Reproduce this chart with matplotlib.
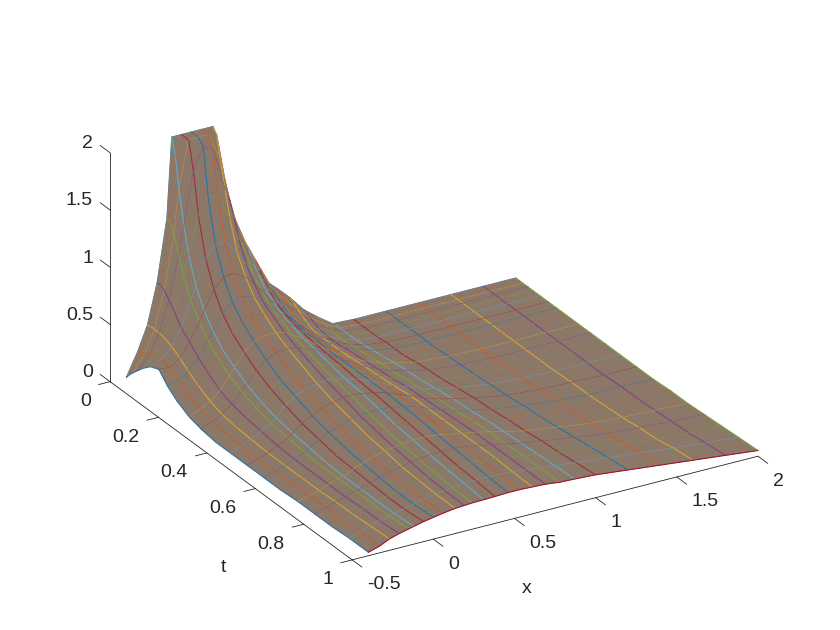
import numpy as np
import matplotlib
matplotlib.use("Agg")
import matplotlib.pyplot as plt
from mpl_toolkits.mplot3d import proj3d
from mpl_toolkits.mplot3d.art3d import Poly3DCollection, Line3DCollection

plt.rcParams['font.family'] = ['Liberation Sans', 'DejaVu Sans']

x_vals = [-0.4, -0.33, -0.27, -0.21, -0.15, -0.12, -0.06, 0, 0.06, 0.135, 0.19, 0.24, 0.31,
          0.38, 0.46, 0.53, 0.61, 0.69, 0.78, 0.87, 1.0, 1.2, 1.4, 1.6, 1.8, 2.0]
t_vals = [0, 0.015, 0.03, 0.05, 0.07, 0.1, 0.135, 0.17, 0.21, 0.26, 0.31, 0.37, 0.43, 0.5,
          0.57, 0.64, 0.71, 0.78, 0.85, 0.92, 1.0]

u_rows = [
    [0, .2, .41, .76, 1.3, 2, 2, 2, 2, 2, 1.55, 1.22, .97, .77, .53, .44, .33, .2, .1, .01, 0, 0, 0, 0, 0, 0],
    [.05, .22, .42, .76, 1.28, 1.85, 2, 2, 2, 1.95, 1.5, 1.2, .95, .75, .53, .42, .31, .19, .09, .02, 0, 0, 0, 0, 0, 0],
    [.09, .23, .42, .74, 1.2, 1.6, 2, 2, 2, 1.75, 1.4, 1.13, .9, .7, .5, .39, .28, .17, .08, .02, 0, 0, 0, 0, 0, 0],
    [.14, .25, .42, .68, 1.05, 1.3, 1.75, 1.95, 1.9, 1.52, 1.25, 1.03, .82, .63, .45, .35, .25, .15, .07, .02, 0, 0, 0, 0, 0, 0],
    [.19, .27, .41, .62, .9, 1.08, 1.4, 1.54, 1.52, 1.3, 1.1, .93, .75, .58, .42, .32, .22, .13, .07, .02, 0, 0, 0, 0, 0, 0],
    [.25, .29, .38, .52, .73, .85, 1.07, 1.17, 1.17, 1.05, .93, .8, .66, .52, .38, .28, .19, .12, .06, .02, 0, 0, 0, 0, 0, 0],
    [.28, .27, .33, .45, .6, .69, .85, .94, .95, .89, .81, .72, .6, .48, .36, .27, .19, .12, .07, .03, .01, 0, 0, 0, 0, 0],
    [.19, .21, .27, .37, .5, .57, .7, .78, .8, .77, .71, .64, .55, .45, .34, .26, .19, .13, .08, .04, .01, 0, 0, 0, 0, 0],
    [.12, .15, .21, .3, .41, .47, .59, .67, .7, .69, .65, .6, .52, .43, .34, .26, .19, .14, .09, .05, .01, 0, 0, 0, 0, 0],
    [.06, .1, .15, .22, .33, .39, .5, .57, .6, .6, .58, .54, .48, .41, .33, .26, .2, .15, .1, .07, .03, .01, 0, 0, 0, 0],
    [.03, .07, .11, .18, .27, .32, .42, .49, .53, .54, .53, .5, .46, .4, .33, .27, .21, .16, .11, .08, .04, .01, 0, 0, 0, 0],
    [.01, .05, .09, .15, .22, .26, .35, .41, .45, .48, .48, .46, .43, .39, .33, .28, .22, .17, .13, .09, .05, .02, .01, 0, 0, 0],
    [.01, .04, .08, .13, .18, .22, .3, .36, .39, .42, .43, .42, .4, .37, .33, .28, .23, .19, .14, .11, .07, .03, .01, 0, 0, 0],
    [.01, .04, .07, .11, .16, .19, .25, .3, .34, .37, .39, .39, .38, .36, .33, .29, .25, .2, .16, .13, .09, .04, .02, .01, 0, 0],
    [.01, .04, .07, .1, .14, .17, .22, .26, .29, .33, .34, .35, .35, .34, .32, .29, .25, .21, .17, .14, .1, .06, .03, .01, .01, 0],
    [.01, .04, .07, .1, .13, .15, .19, .23, .26, .29, .31, .32, .32, .32, .31, .28, .25, .22, .19, .16, .12, .07, .04, .02, .01, .01],
    [.02, .05, .07, .1, .13, .14, .18, .21, .24, .27, .28, .29, .3, .3, .29, .27, .25, .23, .2, .17, .13, .09, .05, .03, .02, .01],
    [.02, .05, .08, .1, .13, .14, .17, .19, .22, .24, .26, .27, .28, .28, .28, .27, .25, .23, .2, .18, .15, .11, .07, .05, .03, .02],
    [.02, .05, .08, .11, .13, .14, .16, .18, .2, .23, .24, .25, .26, .26, .265, .26, .25, .23, .21, .19, .16, .13, .09, .06, .04, .03],
    [.03, .06, .09, .11, .13, .14, .16, .18, .2, .22, .23, .24, .25, .25, .25, .25, .24, .23, .21, .2, .18, .15, .12, .09, .06, .04],
    [.03, .06, .1, .125, .145, .155, .175, .19, .205, .22, .225, .23, .232, .235, .24, .24, .235, .23, .215, .21, .2, .17, .14, .11, .08, .05],
]

x_ticks = [-0.5, 0, 0.5, 1, 1.5, 2]
x_tick_labels = ['-0.5', '0', '0.5', '1', '1.5', '2']
t_ticks = [0, 0.2, 0.4, 0.6, 0.8, 1]
t_tick_labels = ['0', '0.2', '0.4', '0.6', '0.8', '1']
z_ticks = [0, 0.5, 1, 1.5, 2]
z_tick_labels = ['0', '0.5', '1', '1.5', '2']

line_colors = ['#0072BD', '#D95319', '#EDB120', '#7E2F8E', '#77AC30', '#4DBEEB', '#A2142F']
fill_color = '#8b7868'
axis_color = '#262626'

fig = plt.figure(figsize=(8.4, 6.3), dpi=100)
ax = fig.add_axes([5.5 / 840, 2 / 630, 1, 1], projection='3d', proj_type='ortho', computed_zorder=False)
ax.set_box_aspect((471, 477, 254), zoom=1.1046)
ax.view_init(elev=25.7, azim=-120.5)
ax.set_xlim(-0.5, 2, view_margin=0)
ax.set_ylim(1, 0, view_margin=0)
ax.set_zlim(0, 2, view_margin=0)
ax.set_axis_off()

u = np.array(u_rows)

# back to front, the rows nearer the viewer paint over the ones behind
order = 10
ax.plot(x_vals, [t_vals[0]] * len(x_vals), u[0], color=line_colors[0], lw=0.8, alpha=0.75, zorder=order, clip_on=False)
for i in range(len(t_vals) - 1):
    polys = []
    segs = []
    seg_colors = []
    for j in range(len(x_vals) - 2, -1, -1):
        polys.append([(x_vals[j], t_vals[i], u[i, j]), (x_vals[j + 1], t_vals[i], u[i, j + 1]),
                      (x_vals[j + 1], t_vals[i + 1], u[i + 1, j + 1]), (x_vals[j], t_vals[i + 1], u[i + 1, j])])
    for j in range(len(x_vals)):
        segs.append([(x_vals[j], t_vals[i], u[i, j]), (x_vals[j], t_vals[i + 1], u[i + 1, j])])
        seg_colors.append(line_colors[j % 7])
    order += 1
    surf = Poly3DCollection(polys, facecolors=fill_color, edgecolors=fill_color, linewidths=0.4, zorder=order, clip_on=False)
    ax.add_collection3d(surf, autolim=False)
    order += 1
    ax.add_collection3d(Line3DCollection(segs, colors=seg_colors, linewidths=0.8, alpha=0.75, zorder=order, clip_on=False), autolim=False)
    order += 1
    ax.plot(x_vals, [t_vals[i + 1]] * len(x_vals), u[i + 1], color=line_colors[(i + 1) % 7], lw=0.8,
            alpha=0.75 if i < len(t_vals) - 2 else 1, zorder=order, clip_on=False)

# axis lines and ticks
axis_style = dict(color=axis_color, lw=0.6, zorder=1, clip_on=False)
ax.plot([-0.5, -0.5], [0, 0], [0, 2], **axis_style)
ax.plot([-0.5, -0.5], [0, 1], [0, 0], **axis_style)
ax.plot([-0.5, 2], [1, 1], [0, 0], **axis_style)
for v in x_ticks:
    ax.plot([v, v], [1, 1.04], [0, 0], **axis_style)
for v in t_ticks:
    ax.plot([-0.5, -0.57], [v, v], [0, 0], **axis_style)
for v in z_ticks:
    ax.plot([-0.5, -0.5], [0, -0.04], [v, v], **axis_style)


def label(x, y, z, text, dx, dy, ha):
    px, py, _ = proj3d.proj_transform(x, y, z, ax.get_proj())
    ax.annotate(text, (px, py), xycoords='data', xytext=(dx, dy), textcoords='offset pixels',
                ha=ha, va='center', fontsize=14, color=axis_color, annotation_clip=False)


for v, s in zip(x_ticks, x_tick_labels):
    label(v, 1, 0, s, 15, -25, 'left')
for v, s in zip(t_ticks, t_tick_labels):
    label(-0.5, v, 0, s, -19, -20, 'right')
for v, s in zip(z_ticks, z_tick_labels):
    label(-0.5, 0, v, s, -17, 9, 'right')
label(0.577, 1, 0, 'x', 0, -73, 'center')
label(-0.5, 0.467, 0, 't', 0, -103, 'center')

fig.savefig('out.png', dpi=100)
